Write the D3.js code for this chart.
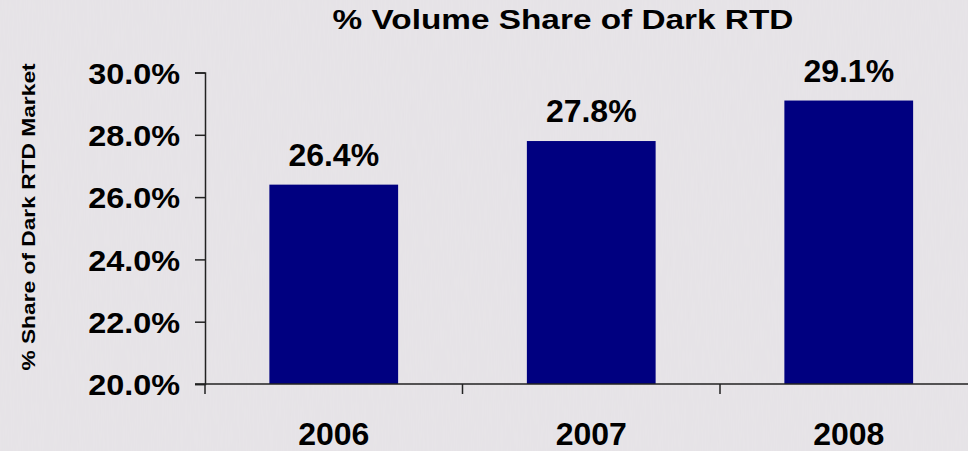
<!DOCTYPE html>
<html>
<head>
<meta charset="utf-8">
<script src="https://cdn.jsdelivr.net/npm/d3@7"></script>
<style>
  html, body { margin: 0; padding: 0; background: #e7e4e7; }
  svg { display: block; }
  text { font-family: "Liberation Sans", Arial, sans-serif; font-weight: bold; fill: #000; }
</style>
</head>
<body>
<svg id="chart" width="968" height="451"></svg>
<script>
// Dark RTD volume share by year
const years = ["2006", "2007", "2008"];
const shares = [0.264, 0.278, 0.291];
const yTicks = [0.20, 0.22, 0.24, 0.26, 0.28, 0.30];
const chartTitle = "% Volume Share of Dark RTD";
const yTitle = "% Share of Dark RTD Market";

const svg = d3.select("#chart");
const W = 968, H = 451;

// paper background with a faint vertical grain
const defs = svg.append("defs");
const grain = defs.append("filter").attr("id", "grain")
  .attr("x", 0).attr("y", 0).attr("width", "100%").attr("height", "100%");
grain.append("feTurbulence")
  .attr("type", "fractalNoise")
  .attr("baseFrequency", "0.8 0.04")
  .attr("numOctaves", 2)
  .attr("seed", 3);
grain.append("feColorMatrix")
  .attr("type", "matrix")
  .attr("values", "0 0 0 0 1  0 0 0 0 1  0 0 0 0 1  0 0 0 0.10 0");
grain.append("feComposite").attr("in2", "SourceGraphic").attr("operator", "in");

svg.append("rect").attr("width", W).attr("height", H).attr("fill", "#e5e2e6");
svg.append("rect").attr("width", W).attr("height", H).attr("fill", "#e5e2e6")
  .attr("filter", "url(#grain)");

// widen a text run horizontally by factor k
function stretch(sel, k) {
  sel.each(function () {
    const len = this.getComputedTextLength();
    d3.select(this)
      .attr("textLength", len * k)
      .attr("lengthAdjust", "spacingAndGlyphs");
  });
}

const x = d3.scaleBand()
  .domain(years)
  .range([205, 977.5])
  .paddingInner(0.5)
  .paddingOuter(0.25);

const y = d3.scaleLinear()
  .domain([0.20, 0.30])
  .range([384, 72.5]);

const pct = d3.format(".1%");

// bars
svg.append("g")
  .selectAll("rect")
  .data(years)
  .join("rect")
  .attr("x", d => x(d))
  .attr("width", x.bandwidth())
  .attr("y", (d, i) => y(shares[i]))
  .attr("height", (d, i) => y(0.20) - y(shares[i]))
  .attr("fill", "#000080");

// y axis
const yAxis = d3.axisLeft(y)
  .tickValues(yTicks)
  .tickFormat(pct)
  .tickSize(10)
  .tickPadding(15);
const gy = svg.append("g")
  .attr("transform", "translate(205,0)")
  .call(yAxis);
gy.select(".domain").attr("stroke", "#222").attr("stroke-width", 1.5);
gy.selectAll(".tick line").attr("stroke", "#222").attr("stroke-width", 1.5);
gy.selectAll(".tick text")
  .attr("fill", "#000")
  .style("font-size", "30px")
  .attr("dy", "0.36em")
  .call(stretch, 1.08);

// x axis line with category boundary ticks
svg.append("line")
  .attr("x1", 195).attr("x2", W)
  .attr("y1", y(0.20)).attr("y2", y(0.20))
  .attr("stroke", "#222").attr("stroke-width", 1.5);
const bounds = years.map(d => x(d) - x.step() * x.paddingInner() / 2);
svg.append("g")
  .selectAll("line")
  .data(bounds)
  .join("line")
  .attr("x1", d => d).attr("x2", d => d)
  .attr("y1", y(0.20)).attr("y2", y(0.20) + 10)
  .attr("stroke", "#222").attr("stroke-width", 1.5);

// category labels
svg.append("g")
  .selectAll("text")
  .data(years)
  .join("text")
  .attr("x", d => x(d) + x.bandwidth() / 2)
  .attr("y", 445)
  .attr("text-anchor", "middle")
  .style("font-size", "32px")
  .text(d => d);

// value labels
svg.append("g")
  .selectAll("text")
  .data(years)
  .join("text")
  .attr("x", d => x(d) + x.bandwidth() / 2)
  .attr("y", (d, i) => y(shares[i]) - 19)
  .attr("text-anchor", "middle")
  .style("font-size", "32px")
  .text((d, i) => pct(shares[i]));

// title
svg.append("text")
  .attr("x", 563)
  .attr("y", 28.5)
  .attr("text-anchor", "middle")
  .style("font-size", "27px")
  .text(chartTitle)
  .call(stretch, 1.235);

// y axis title
svg.append("text")
  .attr("transform", "translate(35,217) rotate(-90)")
  .attr("text-anchor", "middle")
  .style("font-size", "17.5px")
  .text(yTitle)
  .call(stretch, 1.3);
</script>
</body>
</html>
